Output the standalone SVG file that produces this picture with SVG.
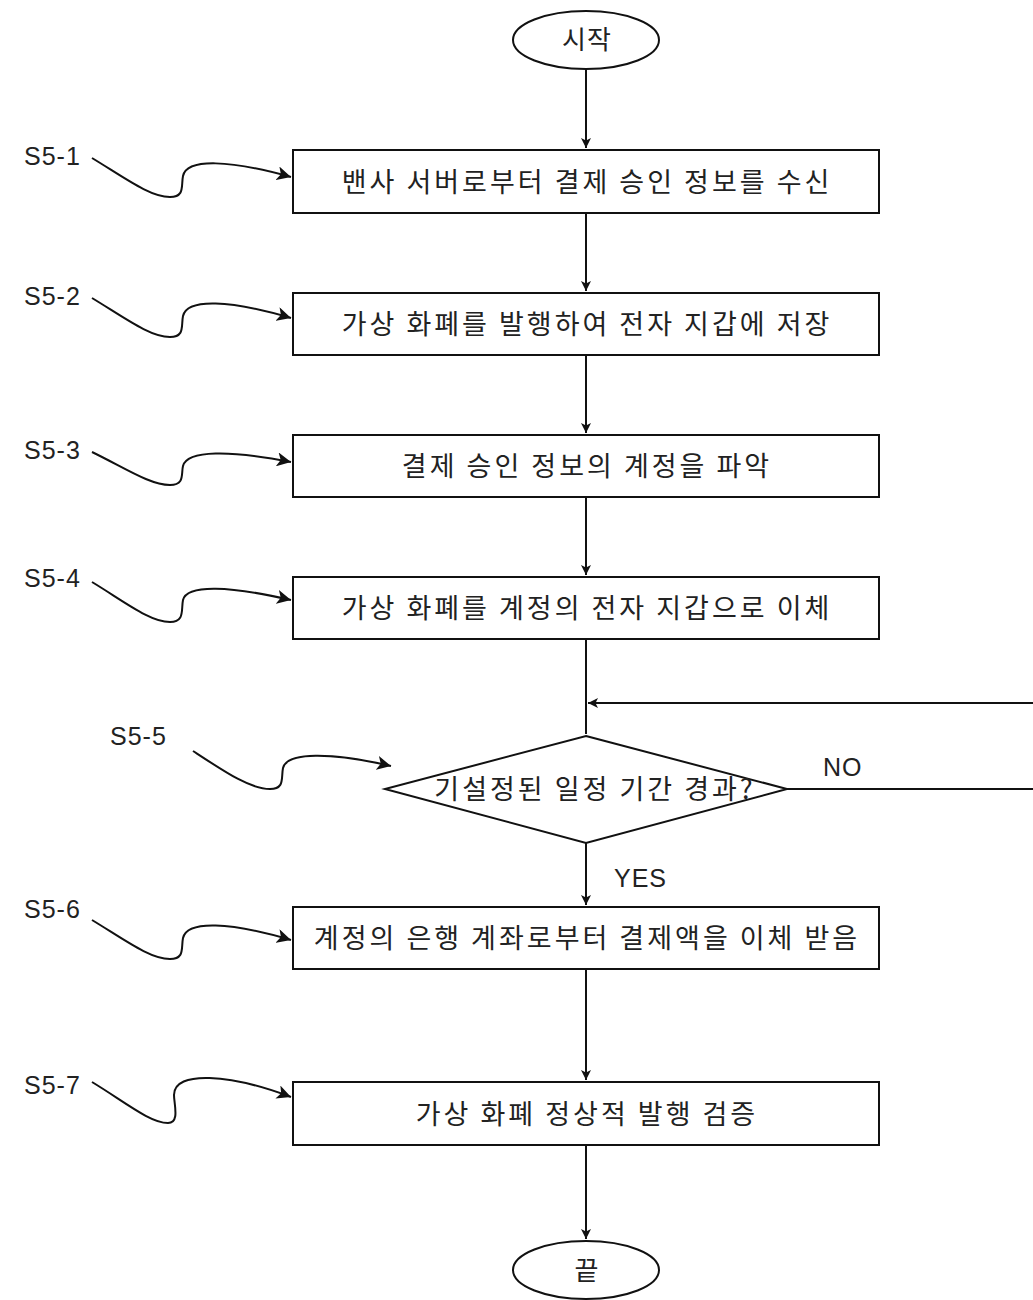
<svg xmlns="http://www.w3.org/2000/svg" width="1033" height="1300" viewBox="0 0 1033 1300">
<defs>
<style>
.n{fill:#fff;stroke:#111;stroke-width:2}
.t{font-family:"Noto Sans CJK KR","Noto Sans",sans-serif;font-size:27px;letter-spacing:3px;fill:#222;text-anchor:middle}
.e{font-family:"Noto Sans CJK KR","Noto Sans",sans-serif;font-size:26px;letter-spacing:1px;fill:#222;text-anchor:middle}
.l{font-family:"Liberation Sans",Arial,sans-serif;font-size:25px;letter-spacing:1px;fill:#222}
.c{fill:none;stroke:#111;stroke-width:2}
</style>
<marker id="a" viewBox="0 0 10 10" refX="10" refY="5" markerWidth="10" markerHeight="10" markerUnits="userSpaceOnUse" orient="auto"><path d="M0,0 L10,5 L0,10 L2.5,5 z" fill="#111"/></marker>
<marker id="b" viewBox="0 0 10 10" refX="10" refY="5" markerWidth="14" markerHeight="14" markerUnits="userSpaceOnUse" orient="auto"><path d="M0,0 L10,5 L0,10 L2.5,5 z" fill="#111"/></marker>
</defs>
<g id="connectors">
<path class="c" d="M586,69 V148" marker-end="url(#a)"/>
<path class="c" d="M586,213 V291" marker-end="url(#a)"/>
<path class="c" d="M586,355 V433" marker-end="url(#a)"/>
<path class="c" d="M586,497 V575" marker-end="url(#a)"/>
<path class="c" d="M586,639 V734"/>
<path class="c" d="M1033,703 H588" marker-end="url(#a)"/>
<path class="c" d="M787,789 H1033"/>
<path class="c" d="M586,843 V905" marker-end="url(#a)"/>
<path class="c" d="M586,969 V1080" marker-end="url(#a)"/>
<path class="c" d="M586,1145 V1239" marker-end="url(#a)"/>
<path class="c" d="M92,158 C125,178 150,197 170,197 C185,197 181,186 183,176 C187,158 230,160 291,177" marker-end="url(#b)"/>
<path class="c" d="M92,298 C125,318 150,337 170,337 C185,337 181,326 183,316 C187,298 230,300 291,318" marker-end="url(#b)"/>
<path class="c" d="M92,452 C125,468 150,485 170,485 C185,485 181,474 183,466 C187,450 230,450 291,462" marker-end="url(#b)"/>
<path class="c" d="M92,582 C125,602 150,622 170,622 C185,622 181,610 183,600 C187,584 230,586 291,600" marker-end="url(#b)"/>
<path class="c" d="M193,751 C225,772 250,789 270,789 C285,789 281,778 283,768 C287,752 330,752 391,766" marker-end="url(#b)"/>
<path class="c" d="M92,920 C125,940 150,959 170,959 C185,959 181,948 183,938 C187,920 230,922 291,940" marker-end="url(#b)"/>
<path class="c" d="M92,1082 C125,1102 150,1123 168,1123 C180,1123 174,1104 174,1095 C174,1070 230,1074 291,1097" marker-end="url(#b)"/>
</g>
<g id="start"><ellipse class="n" cx="586" cy="40" rx="73" ry="29"/><text class="e" x="587" y="49">시작</text></g>
<g id="s5-1"><rect class="n" x="293" y="150" width="586" height="63"/><text class="t" x="587" y="192">밴사 서버로부터 결제 승인 정보를 수신</text><text class="l" x="24" y="165">S5-1</text></g>
<g id="s5-2"><rect class="n" x="293" y="293" width="586" height="62"/><text class="t" x="587" y="334">가상 화폐를 발행하여 전자 지갑에 저장</text><text class="l" x="24" y="305">S5-2</text></g>
<g id="s5-3"><rect class="n" x="293" y="435" width="586" height="62"/><text class="t" x="587" y="476">결제 승인 정보의 계정을 파악</text><text class="l" x="24" y="459">S5-3</text></g>
<g id="s5-4"><rect class="n" x="293" y="577" width="586" height="62"/><text class="t" x="587" y="618">가상 화폐를 계정의 전자 지갑으로 이체</text><text class="l" x="24" y="587">S5-4</text></g>
<g id="s5-5"><polygon class="n" points="586,736 787,789 586,843 385,789"/><text class="t" x="595" y="799">기설정된 일정 기간 경과?</text><text class="l" x="110" y="745">S5-5</text></g>
<g id="s5-6"><rect class="n" x="293" y="907" width="586" height="62"/><text class="t" x="587" y="948">계정의 은행 계좌로부터 결제액을 이체 받음</text><text class="l" x="24" y="918">S5-6</text></g>
<g id="s5-7"><rect class="n" x="293" y="1082" width="586" height="63"/><text class="t" x="587" y="1124">가상 화폐 정상적 발행 검증</text><text class="l" x="24" y="1094">S5-7</text></g>
<g id="end"><ellipse class="n" cx="586" cy="1270" rx="73" ry="29"/><text class="e" x="587" y="1280">끝</text></g>
<text class="l" x="823" y="776">NO</text>
<text class="l" x="614" y="887">YES</text>
</svg>
